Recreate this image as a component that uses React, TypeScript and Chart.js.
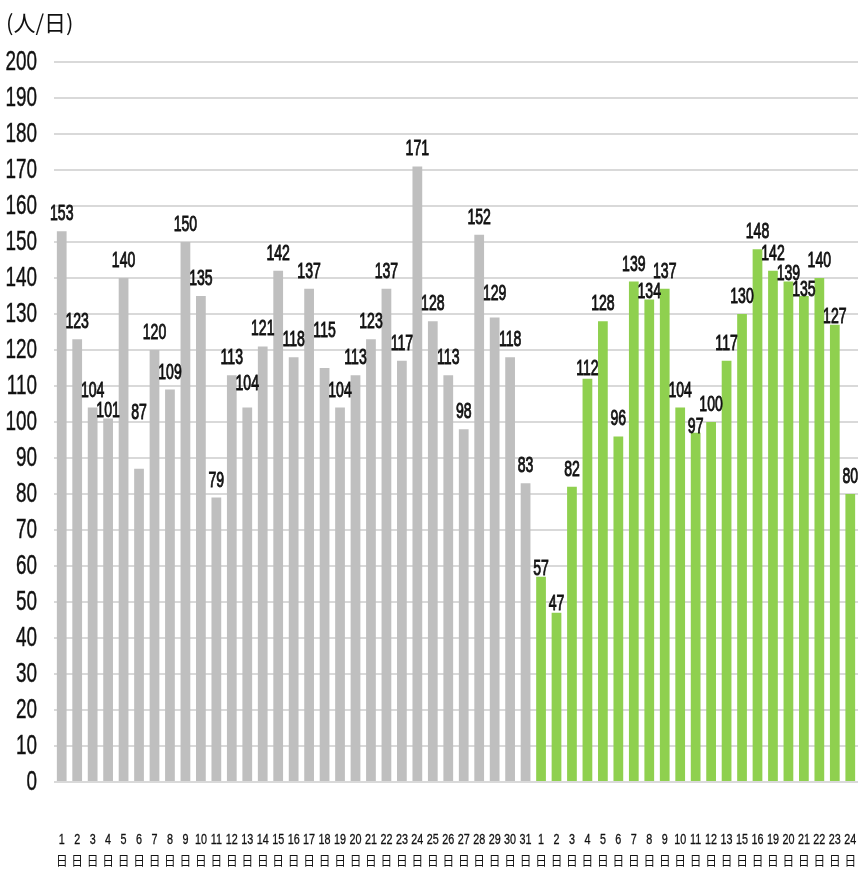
import React, { useEffect, useRef } from "react";
import { Chart, registerables } from "chart.js";

Chart.register(...registerables);

const monthADays = ["1","2","3","4","5","6","7","8","9","10","11","12","13","14","15","16","17","18","19","20","21","22","23","24","25","26","27","28","29","30","31"];
const monthAValues = [153,123,104,101,140,87,120,109,150,135,79,113,104,121,142,118,137,115,104,113,123,137,117,171,128,113,98,152,129,118,83];
const monthBDays = ["1","2","3","4","5","6","7","8","9","10","11","12","13","15","16","19","20","21","22","23","24"];
const monthBValues = [57,47,82,112,128,96,139,134,137,104,97,100,117,130,148,142,139,135,140,127,80];
const yTicks = [0,10,20,30,40,50,60,70,80,90,100,110,120,130,140,150,160,170,180,190,200];
const unitLabel = "(人/日)";
const dayChar = "日";

// style: gap (px) between bar top and its value label where it differs from default
const DEFAULT_LABEL_GAP = 11;
const labelGapOverrides: Record<number, number> = {
  3: 1, 5: 50, 12: 18, 17: 31, 28: 18,
  31: 2, 32: 3, 34: 4, 38: 2, 41: 0, 47: 2, 48: 0, 50: 2,
};

const GRAY = "#bfbfbf";
const GREEN = "#8fd04f";
const LATIN = "'Liberation Sans', Arial, sans-serif";
const CJK = "'Noto Sans CJK JP', sans-serif";

function drawNarrow(
  ctx: CanvasRenderingContext2D,
  text: string,
  x: number,
  y: number,
  font: string,
  sx: number,
  align: CanvasTextAlign,
  baseline: CanvasTextBaseline,
  stroke = 0
) {
  ctx.save();
  ctx.translate(x, y);
  ctx.scale(sx, 1);
  ctx.font = font;
  ctx.textAlign = align;
  ctx.textBaseline = baseline;
  ctx.fillText(text, 0, 0);
  if (stroke > 0) {
    ctx.lineWidth = stroke;
    ctx.strokeStyle = ctx.fillStyle as string;
    ctx.strokeText(text, 0, 0);
  }
  ctx.restore();
}

export default function App() {
  const ref = useRef<HTMLCanvasElement | null>(null);
  useEffect(() => {
    document.body.style.margin = "0";
    document.body.style.overflow = "hidden";
    const days = [...monthADays, ...monthBDays];
    const values = [...monthAValues, ...monthBValues];
    const colors = values.map((_, i) => (i < monthAValues.length ? GRAY : GREEN));

    const textPlugin = {
      id: "textPlugin",
      afterDatasetsDraw(chart: any) {
        const ctx: CanvasRenderingContext2D = chart.ctx;
        const meta = chart.getDatasetMeta(0);
        const yScale = chart.scales.y;
        const area = chart.chartArea;
        ctx.save();
        ctx.fillStyle = "#111";
        // value labels
        meta.data.forEach((el: any, i: number) => {
          const gap = labelGapOverrides[i] ?? DEFAULT_LABEL_GAP;
          drawNarrow(ctx, String(values[i]), el.x, el.y - gap, `22px ${LATIN}`, 0.64, "center", "alphabetic", 0.9);
        });
        // y tick labels
        yTicks.forEach((v) => {
          const py = yScale.getPixelForValue(v);
          drawNarrow(ctx, String(v), 37, py + 1, `27px ${LATIN}`, 0.7, "right", "middle", 0.4);
        });
        // x tick labels
        meta.data.forEach((el: any, i: number) => {
          drawNarrow(ctx, days[i], el.x, area.bottom + 58, `15px ${LATIN}`, 0.72, "center", "middle", 0.3);
          drawNarrow(ctx, dayChar, el.x, area.bottom + 78, `13px ${CJK}`, 0.9, "center", "middle");
        });
        // unit label
        ctx.font = `22px ${CJK}`;
        ctx.textAlign = "left";
        ctx.textBaseline = "middle";
        ctx.fillText(unitLabel, 6, 23);
        ctx.restore();
      },
    };

    const chart = new Chart(ref.current!, {
      type: "bar",
      data: {
        labels: days,
        datasets: [
          {
            data: values,
            backgroundColor: colors,
            barPercentage: 0.63,
            categoryPercentage: 1,
          },
        ],
      },
      options: {
        animation: false,
        responsive: false,
        layout: { padding: { top: 62, right: 8, left: 54, bottom: 90 } },
        plugins: { legend: { display: false }, tooltip: { enabled: false } },
        scales: {
          x: {
            display: false,
          },
          y: {
            min: 0,
            max: 200,
            afterBuildTicks(s: any) {
              s.ticks = yTicks.map((v) => ({ value: v }));
            },
            grid: { color: "#d9d9d9", lineWidth: 2, drawTicks: false },
            border: { display: false },
            ticks: { display: false },
            afterFit(s: any) {
              s.width = 0;
            },
          },
        },
      },
      plugins: [textPlugin],
    });
    return () => chart.destroy();
  }, []);
  return <canvas ref={ref} width={866} height={872} style={{ display: "block" }} />;
}
